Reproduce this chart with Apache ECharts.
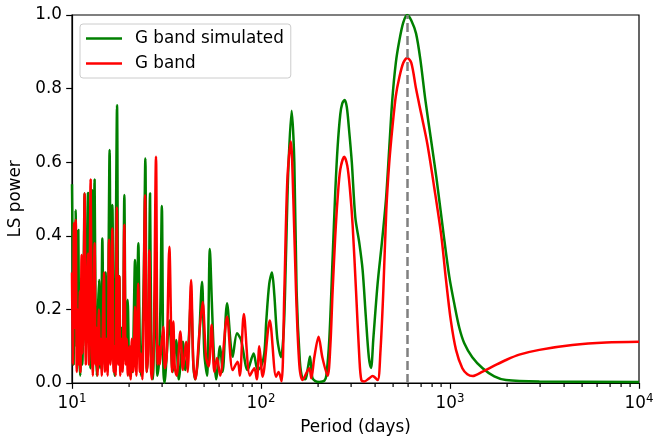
<!DOCTYPE html>
<html><head><meta charset="utf-8">
<script src="https://cdn.jsdelivr.net/npm/echarts@6/dist/echarts.min.js"></script>
<style>html,body{margin:0;padding:0;background:#fff}#c{width:654px;height:439px}</style>
</head><body><div id="c"></div>
<script>
// ---- data ----
const greenPeriod = [10.00,10.10,10.20,10.32,10.45,10.56,10.69,10.80,10.93,11.06,11.20,11.34,11.52,11.66,11.83,11.98,12.15,12.35,12.50,12.65,12.81,12.96,13.17,13.36,13.53,13.69,13.90,14.12,14.30,14.47,14.70,14.87,15.06,15.28,15.47,15.62,15.81,16.05,16.35,16.60,16.81,17.01,17.31,17.58,17.80,18.06,18.35,18.57,18.92,19.27,19.70,20.11,20.48,20.86,21.55,21.89,22.44,22.85,23.18,23.56,23.99,24.44,24.89,25.35,25.88,26.29,26.78,27.27,27.77,28.28,28.80,29.34,29.88,30.43,30.93,31.56,32.74,34.12,35.57,36.72,38.60,39.78,41.26,42.66,43.86,44.94,46.61,48.76,50.15,51.82,53.63,54.94,56.30,57.83,60.72,62.67,66.12,70.79,74.68,78.42,84.98,91.42,95.99,100.0,104.1,106.7,110.6,114.3,117.6,122.0,127.6,132.1,135.3,139.5,145.2,150.1,154.3,160.5,165.5,171.6,176.9,181.6,186.8,193.8,203.5,216.3,221.6,229.9,239.3,247.2,254.2,262.7,269.2,276.9,284.4,293.3,302.3,315.5,331.3,344.9,358.6,372.0,382.1,392.9,414.0,435.8,458.6,477.3,495.1,516.8,539.2,566.2,594.4,624.2,661.0,696.5,740.3,791.5,846.4,921.8,991.5,1054,1120,1190,1312,1488,1715,1978,2969,10000];
const greenPower = [0.54,0.30,0.05,0.32,0.47,0.10,0.25,0.416,0.08,0.02,0.22,0.05,0.30,0.515,0.10,0.25,0.516,0.12,0.04,0.30,0.524,0.15,0.553,0.12,0.02,0.18,0.28,0.04,0.15,0.393,0.10,0.05,0.30,0.05,0.10,0.35,0.633,0.20,0.484,0.08,0.02,0.30,0.755,0.10,0.29,0.03,0.15,0.05,0.511,0.10,0.226,0.02,0.10,0.03,0.334,0.05,0.38,0.10,0.02,0.10,0.30,0.61,0.03,0.10,0.515,0.10,0.01,0.15,0.30,0.02,0.05,0.20,0.481,0.04,0.00,0.06,0.17,0.03,0.117,0.01,0.112,0.035,0.10,0.235,0.05,0.01,0.08,0.275,0.08,0.02,0.364,0.22,0.08,0.01,0.10,0.03,0.217,0.071,0.135,0.117,0.035,0.08,0.035,0.044,0.08,0.17,0.27,0.30,0.24,0.12,0.07,0.15,0.33,0.58,0.74,0.60,0.25,0.06,0.013,0.01,0.04,0.072,0.015,0.005,0.003,0.006,0.02,0.12,0.34,0.52,0.64,0.73,0.76,0.769,0.75,0.68,0.60,0.45,0.38,0.307,0.18,0.07,0.041,0.12,0.27,0.38,0.50,0.64,0.77,0.87,0.93,0.98,1.0,0.985,0.95,0.88,0.77,0.665,0.56,0.41,0.289,0.215,0.15,0.108,0.07,0.04,0.018,0.008,0.004,0.003];

const redPeriod = [10.00,10.10,10.24,10.34,10.47,10.60,10.73,10.86,11.00,11.09,11.24,11.38,11.52,11.66,11.83,11.98,12.15,12.30,12.55,12.73,12.89,13.01,13.17,13.33,13.50,13.66,13.87,14.04,14.21,14.38,14.56,14.76,14.96,15.19,15.42,15.70,15.96,16.15,16.35,16.60,16.81,17.01,17.27,17.52,17.80,18.02,18.31,18.53,18.92,19.22,19.46,19.75,20.11,20.43,20.74,21.11,21.55,21.89,22.44,22.85,23.18,23.56,24.36,24.83,25.20,25.66,26.13,26.45,27.05,27.83,28.38,28.80,29.15,29.70,30.43,31.00,31.68,32.74,33.88,34.37,35.01,35.79,37.43,38.60,40.12,40.93,42.66,43.86,44.94,47.18,49.12,51.19,52.87,54.81,56.65,58.53,60.80,66.12,70.79,75.24,77.32,81.13,87.30,92.21,95.06,98.00,102.0,111.3,120.1,123.9,128.5,132.9,137.8,143.8,148.3,153.2,159.5,165.9,180.1,184.6,191.5,201.7,211.1,225.2,232.7,239.3,247.2,254.2,262.7,275.9,286.2,295.1,305.3,318.3,331.3,339.5,352.1,372.0,389.6,414.0,427.9,443.8,460.3,477.3,497.0,516.8,539.2,566.2,594.4,624.2,661.0,705.0,758.5,825.9,899.5,952.4,1010,1076,1162,1235,1317,1488,1715,1978,2326,2969,4437,6688,10000];
const redPower = [0.30,0.05,0.434,0.15,0.443,0.03,0.20,0.05,0.25,0.03,0.348,0.08,0.20,0.515,0.05,0.20,0.352,0.05,0.553,0.10,0.02,0.20,0.38,0.05,0.15,0.02,0.20,0.05,0.12,0.02,0.15,0.30,0.03,0.12,0.02,0.389,0.05,0.10,0.42,0.03,0.10,0.02,0.477,0.05,0.29,0.02,0.12,0.03,0.43,0.05,0.12,0.02,0.10,0.01,0.12,0.03,0.207,0.02,0.27,0.03,0.08,0.01,0.51,0.03,0.08,0.36,0.05,0.01,0.10,0.615,0.05,0.10,0.05,0.10,0.153,0.04,0.07,0.37,0.03,0.167,0.04,0.02,0.14,0.035,0.112,0.03,0.28,0.05,0.01,0.135,0.22,0.07,0.045,0.158,0.03,0.068,0.02,0.18,0.035,0.058,0.02,0.1875,0.02,0.04,0.01,0.10,0.017,0.17,0.017,0.03,0.005,0.25,0.55,0.656,0.50,0.25,0.05,0.008,0.04,0.013,0.07,0.126,0.07,0.02,0.10,0.25,0.40,0.50,0.58,0.615,0.59,0.53,0.43,0.25,0.07,0.008,0.004,0.012,0.019,0.008,0.08,0.25,0.47,0.60,0.70,0.78,0.83,0.87,0.883,0.87,0.80,0.73,0.65,0.53,0.40,0.28,0.17,0.09,0.04,0.024,0.019,0.031,0.047,0.0625,0.077,0.09,0.103,0.11,0.112];

const seriesNames = ['G band simulated', 'G band'];
const minorTickValues = [20,30,40,50,60,70,80,90,200,300,400,500,600,700,800,900,2000,3000,4000,5000,6000,7000,8000,9000];
const peakPeriod = 594;

const FONT = 'DejaVu Sans';
const FS = 16.8;

const chart = echarts.init(document.getElementById('c'), null, {renderer: 'canvas'});
chart.setOption({
  animation: false,
  backgroundColor: '#fff',
  grid: {left: 72, right: 15, top: 15, bottom: 56, containLabel: false, outerBoundsMode: 'none',
         show: true, borderColor: '#000', borderWidth: 1.2, backgroundColor: 'transparent'},
  legend: {
    data: seriesNames,
    orient: 'vertical', left: 80, top: 24,
    icon: 'rect', itemWidth: 36, itemHeight: 2.5, itemGap: 6,
    padding: [5, 7, 5, 6],
    backgroundColor: '#fff', borderColor: '#cccccc', borderWidth: 1, borderRadius: 3,
    textStyle: {fontFamily: FONT, fontSize: FS, color: '#000', lineHeight: 19, padding: [0,0,0,8]}
  },
  xAxis: {
    type: 'log', logBase: 10, min: 10, max: 10000,
    name: 'Period (days)', nameLocation: 'middle', nameGap: 36,
    nameTextStyle: {fontFamily: FONT, fontSize: FS, color: '#000'},
    axisLine: {show: true, onZero: false, lineStyle: {color: '#000', width: 1.2}},
    axisTick: {show: true, inside: false, length: 5.8, lineStyle: {color: '#000', width: 1.2}},
    splitLine: {show: false}, minorSplitLine: {show: false},
    minorTick: {show: false},
    axisLabel: {
      margin: 10, color: '#000', fontFamily: FONT, fontSize: FS,
      formatter: v => '{b|10}{s|' + Math.round(Math.log10(v)) + '}',
      rich: {
        b: {fontFamily: FONT, fontSize: FS, color: '#000'},
        s: {fontFamily: FONT, fontSize: 11.8, color: '#000', padding: [0, 0, 9, 0]}
      }
    }
  },
  yAxis: {
    type: 'value', min: 0, max: 1, interval: 0.2,
    name: 'LS power', nameLocation: 'middle', nameGap: 42,
    nameTextStyle: {fontFamily: FONT, fontSize: FS, color: '#000'},
    axisLine: {show: true, lineStyle: {color: '#000', width: 1.2}},
    axisTick: {show: true, inside: false, length: 5.8, lineStyle: {color: '#000', width: 1.2}},
    splitLine: {show: false},
    axisLabel: {margin: 10, color: '#000', fontFamily: FONT, fontSize: FS, formatter: v => v.toFixed(1)}
  },
  series: [
    {
      name: seriesNames[0], type: 'line', showSymbol: false, smooth: 0.3,
      data: greenPeriod.map((p, i) => [p, greenPower[i]]),
      lineStyle: {color: '#008000', width: 2.5}, itemStyle: {color: '#008000'}, z: 2
    },
    {
      name: seriesNames[1], type: 'line', showSymbol: false, smooth: 0.3,
      data: redPeriod.map((p, i) => [p, redPower[i]]),
      lineStyle: {color: '#ff0000', width: 2.5}, itemStyle: {color: '#ff0000'}, z: 3,
      markLine: {
        silent: true, symbol: 'none', label: {show: false},
        lineStyle: {color: '#808080', width: 2.5, type: [9, 4]},
        data: [{xAxis: peakPeriod}]
      }
    }
  ]
});

// minor ticks of the log x axis, placed through the axis scale
try {
  const y0 = chart.convertToPixel({yAxisIndex: 0}, 0);
  const els = minorTickValues.map(v => {
    const x = chart.convertToPixel({xAxisIndex: 0}, v);
    return {type: 'rect', silent: true, z: 100,
            shape: {x: Math.round(x) - 0.5, y: Math.round(y0) + 0.5, width: 1.2, height: 3.6},
            style: {fill: '#000'}};
  });
  chart.setOption({graphic: {elements: els}});
} catch (e) { /* keep the chart even if ticks fail */ }
</script></body></html>
